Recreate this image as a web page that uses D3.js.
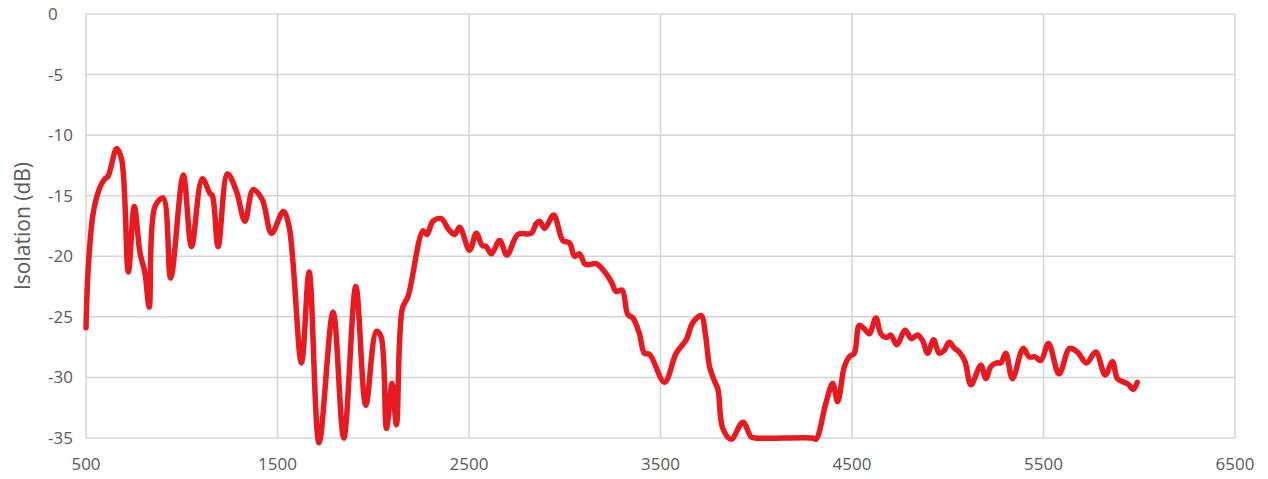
<!DOCTYPE html>
<html>
<head>
<meta charset="utf-8">
<script src="https://cdn.jsdelivr.net/npm/d3@7"></script>
<style>
  html, body { margin: 0; padding: 0; background: #fff; }
  svg { display: block; }
  text { font-family: "Open Sans", "Noto Sans", sans-serif; fill: #595959; }
</style>
</head>
<body>
<svg id="chart" width="1268" height="479"></svg>
<script>
// Frequency (MHz) and isolation (dB)
const freq = [500, 512, 538, 573, 599, 615, 660, 686, 721, 752, 782, 808, 830, 860, 903, 942,
  1008, 1051, 1107, 1147, 1160, 1190, 1239, 1285, 1330, 1373, 1420, 1469, 1530, 1560, 1625, 1665,
  1717, 1790, 1846, 1909, 1961, 2016, 2040, 2069, 2098, 2121, 2152, 2182, 2260, 2281, 2312, 2356,
  2390, 2425, 2451, 2503, 2538, 2569, 2590, 2617, 2660, 2698, 2755, 2825, 2851, 2869, 2895, 2942,
  2990, 3025, 3051, 3077, 3103, 3121, 3164, 3199, 3243, 3269, 3300, 3329, 3356, 3390, 3416, 3443,
  3521, 3582, 3634, 3668, 3712, 3735, 3756, 3782, 3800, 3825, 3869, 3930, 3973, 3995, 4294, 4312,
  4364, 4399, 4425, 4460, 4486, 4512, 4538, 4565, 4590, 4625, 4651, 4680, 4703, 4733, 4778, 4810,
  4842, 4870, 4895, 4926, 4955, 4980, 5008, 5035, 5060, 5090, 5121, 5173, 5199, 5225, 5255, 5277,
  5303, 5338, 5394, 5425, 5455, 5486, 5526, 5581, 5637, 5677, 5724, 5773, 5822, 5860, 5886, 5921,
  5945, 5968, 5990];
const isolation = [-25.9, -20.9, -16.4, -14.3, -13.6, -13.4, -11.1, -12.0, -21.3, -15.9, -19.7, -21.4, -24.2, -15.9, -15.2, -21.8,
  -13.3, -19.2, -13.6, -14.8, -15.0, -19.2, -13.2, -14.6, -17.1, -14.5, -15.3, -18.1, -16.3, -17.5, -28.8, -21.3,
  -35.4, -24.6, -35.0, -22.5, -32.3, -26.2, -26.6, -34.2, -30.5, -33.9, -24.3, -23.3, -17.9, -18.2, -17.1, -16.9,
  -17.7, -18.2, -17.6, -19.5, -18.1, -19.1, -19.2, -19.8, -18.7, -19.9, -18.2, -18.1, -17.3, -17.1, -17.7, -16.6,
  -18.7, -18.9, -20.0, -19.8, -20.6, -20.7, -20.6, -21.1, -22.1, -22.9, -22.8, -24.8, -25.1, -26.4, -28.0, -28.1,
  -30.4, -28.0, -26.9, -25.5, -24.9, -26.5, -29.1, -30.3, -31.0, -34.2, -35.1, -33.7, -34.9, -35.0, -35.0, -35.1,
  -32.1, -30.5, -32.0, -29.1, -28.3, -28.0, -25.7, -26.0, -26.4, -25.1, -26.4, -26.7, -26.5, -27.3, -26.1, -26.8,
  -26.5, -27.0, -28.0, -26.9, -28.0, -27.8, -27.1, -27.6, -27.9, -28.7, -30.6, -29.0, -30.1, -29.1, -28.8, -28.8,
  -28.0, -30.1, -27.6, -28.3, -28.3, -28.6, -27.2, -29.7, -27.6, -27.9, -28.8, -27.9, -29.8, -28.7, -30.1, -30.4,
  -30.6, -31.0, -30.4];
const xTicks = [500, 1500, 2500, 3500, 4500, 5500, 6500];
const yTicks = [0, -5, -10, -15, -20, -25, -30, -35];
const yTitle = "Isolation (dB)";

(function () {
const svg = d3.select("#chart");
const mLeft = 86, mRight = 1235, mTop = 14, mBottom = 438;

const x = d3.scaleLinear().domain([500, 6500]).range([mLeft, mRight]);
const y = d3.scaleLinear().domain([-35, 0]).range([mBottom, mTop]);

// gridlines
const grid = svg.append("g");
grid.selectAll("line.h").data(yTicks).join("line")
  .attr("x1", mLeft).attr("x2", mRight)
  .attr("y1", d => y(d)).attr("y2", d => y(d))
  .attr("stroke", "#d4d4d4").attr("stroke-width", 1.5);
grid.selectAll("line.v").data(xTicks).join("line")
  .attr("y1", mTop).attr("y2", mBottom)
  .attr("x1", d => x(d)).attr("x2", d => x(d))
  .attr("stroke", "#d4d4d4").attr("stroke-width", 1.5);

// tick labels
svg.append("g").selectAll("text").data(yTicks).join("text")
  .attr("x", 48).attr("y", d => y(d)).attr("dy", "0.35em")
  .attr("text-anchor", "start").attr("font-size", 17)
  .text(d => d);
svg.append("g").selectAll("text").data(xTicks).join("text")
  .attr("x", d => x(d)).attr("y", 464).attr("dy", "0.35em")
  .attr("text-anchor", "middle").attr("font-size", 17)
  .text(d => d);

// axis title
svg.append("text")
  .attr("transform", `translate(23,${(mTop + mBottom) / 2}) rotate(-90)`)
  .attr("text-anchor", "middle").attr("dy", "0.35em")
  .attr("font-size", 21)
  .text(yTitle);

// data line
const data = freq.map((f, i) => [f, isolation[i]]);
const line = d3.line().x(d => x(d[0])).y(d => y(d[1])).curve(d3.curveCatmullRom.alpha(0.5));
svg.append("path").datum(data)
  .attr("d", line)
  .attr("fill", "none")
  .attr("stroke", "#e8191f")
  .attr("stroke-width", 5.5)
  .attr("stroke-linejoin", "round")
  .attr("stroke-linecap", "round");
})();
</script>
</body>
</html>
